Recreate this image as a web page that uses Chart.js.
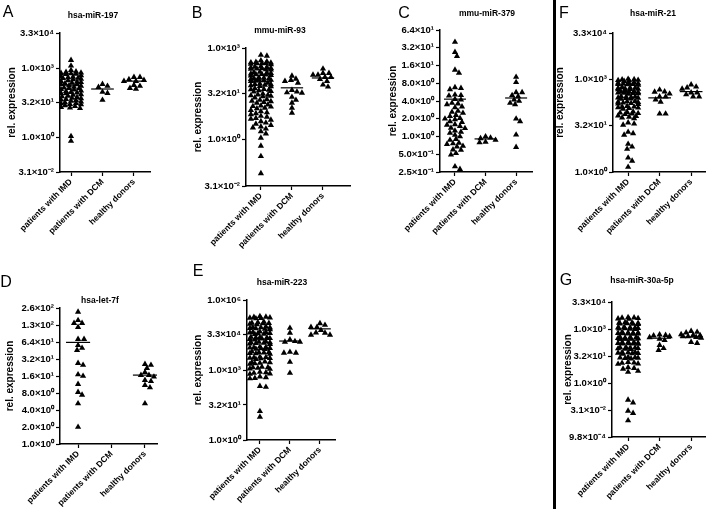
<!DOCTYPE html>
<html><head><meta charset="utf-8">
<script src="https://cdn.jsdelivr.net/npm/chart.js@4.4.1/dist/chart.umd.min.js"></script>
<style>
body{margin:0;background:#fff;width:709px;height:517px;position:relative;overflow:hidden;font-family:"Liberation Sans",Arial,sans-serif;}
canvas{position:absolute;}
.t{position:absolute;transform:translate(-50%,-50%);font-weight:bold;font-size:8.5px;white-space:nowrap;color:#000}
.l{position:absolute;transform:translate(-50%,-50%);font-size:16px;color:#000;line-height:1}
</style></head><body>
<div style="position:absolute;left:553px;top:0;width:3px;height:509px;background:#000"></div>
<script>
// ---------------- DATA ----------------
const categories = ['patients with IMD', 'patients with DCM', 'healthy donors'];

// A: hsa-miR-197
const A_IMD = [2200, 1250, 800,
  700, 660, 620, 600, 580, 560, 540,
  480, 440, 410, 390, 370, 360, 340, 320,
  290, 270, 250, 240, 225, 215, 200, 195,
  175, 165, 150, 140, 135, 130, 120, 115,
  105, 98, 90, 85, 81, 78, 72, 68,
  62, 58, 54, 50, 48, 45, 42, 40,
  37, 35, 32, 30, 29, 27, 26,
  24, 22, 20, 19, 18,
  1.1, 0.68];
const A_DCM = [200, 166, 148, 91, 81, 41];
const A_HD = [400, 400, 320, 300, 270, 270, 182, 166, 135, 123];
const A_lines = [180, 123, 270];
const A_ticks = [0.031, 1, 32, 1000, 33000];
const A_tickLabels = ['3.1×10⁻²', '1.0×10⁰', '3.2×10¹', '1.0×10³', '3.3×10⁴'];

// B: mmu-miR-93
const B_IMD = [590, 550, 390,
  360, 345, 330, 320, 310, 300, 290, 335, 315,
  250, 240, 230, 220, 215, 210, 200, 195, 235, 205,
  165, 160, 150, 145, 140, 135, 130, 125, 155, 138,
  110, 105, 100, 96, 93, 90, 86, 82, 102, 88,
  72, 68, 65, 62, 60, 57, 55, 66,
  48, 45, 43, 41, 39, 37, 44,
  32, 30, 28, 27, 26, 24, 29,
  21, 20, 18.5, 18, 17, 16,
  14, 13, 12.5, 12, 11, 10.5,
  9.2, 8.5, 7.8, 7.3, 6.8,
  6, 5.6, 5.1, 4.8, 4.5,
  4, 3.6, 3.3, 3.0,
  2.7, 2.5, 2.3,
  1.86, 1.6, 1.15, 0.63, 0.29, 0.08];
const B_DCM = [123, 98, 89, 83, 72, 42, 37, 35, 34, 25, 20, 16, 11, 7.6];
const B_HD = [209, 151, 151, 132, 132, 112, 112, 95, 83, 63, 54];
const B_lines = [79, 50, 105];
const B_ticks = [0.031, 1, 32, 1000];
const B_tickLabels = ['3.1×10⁻²', '1.0×10⁰', '3.2×10¹', '1.0×10³'];

// C: mmu-miR-379
const C_IMD = [40, 27, 23, 13.5, 12, 6.6, 6.3, 6.8,
  5.0, 5.1, 4.9, 4.2, 4.3, 3.6, 3.7, 3.5, 3.2, 3.1,
  2.6, 2.7, 2.5, 2.3, 2.2, 2.0, 2.05, 1.95, 1.8, 1.75,
  1.57, 1.6, 1.5, 1.38, 1.4, 1.2, 1.25, 1.15, 1.06, 1.0,
  0.87, 0.9, 0.76, 0.78, 0.74, 0.67, 0.69, 0.59, 0.6,
  0.52, 0.49, 0.31, 0.28];
const C_DCM = [1.0, 0.95, 0.93, 0.87, 0.81, 0.79];
const C_HD = [10.2, 8.3, 5.6, 5.6, 5.0, 4.8, 4.2, 4.0, 3.7, 3.5, 2.0, 1.8, 1.07, 0.66];
const C_lines = [4.3, 0.91, 4.5];
const C_ticks = [0.25, 0.5, 1, 2, 4, 8, 16, 32, 64];
const C_tickLabels = ['2.5×10⁻¹', '5.0×10⁻¹', '1.0×10⁰', '2.0×10⁰', '4.0×10⁰', '8.0×10⁰', '1.6×10¹', '3.2×10¹', '6.4×10¹'];

// D: hsa-let-7f
const D_IMD = [219, 155, 138, 138, 117, 72, 72, 56, 50, 46, 27, 25, 17, 16, 11.5, 8.3, 7.4, 5.2, 2.0];
const D_DCM = [];
const D_HD = [26, 25, 22, 18.6, 16.6, 16.6, 15.5, 13.5, 12.9, 11, 10, 5.2];
const D_lines = [63, null, 16.6];
const D_ticks = [1, 2, 4, 8, 16, 32, 64, 128, 256];
const D_tickLabels = ['1.0×10⁰', '2.0×10⁰', '4.0×10⁰', '8.0×10⁰', '1.6×10¹', '3.2×10¹', '6.4×10¹', '1.3×10²', '2.6×10²'];

// E: hsa-miR-223
const E_IMD = [200000, 190000,
  185000, 175000, 165000, 160000, 172000,
  115000, 108000, 102000, 98000, 94000, 90000, 105000,
  72000, 68000, 65000, 62000, 60000, 57000, 55000, 66000,
  44000, 42000, 40000, 38000, 37000, 35000, 34000, 41000,
  26000, 25000, 24000, 23000, 22000, 21000, 20000, 24500,
  16500, 15500, 15000, 14500, 14000, 13500, 12800, 15800,
  9900, 9400, 9000, 8700, 8400, 8000, 7700, 9200,
  6100, 5800, 5500, 5300, 5100, 4900, 5700,
  3600, 3400, 3300, 3200, 3100, 2900, 3500,
  2250, 2100, 2000, 1900, 1800, 2150,
  1350, 1280, 1220, 1150, 1100, 1300,
  820, 780, 740, 700, 670,
  520, 480, 450, 430,
  204, 186, 17, 9.8];
const E_DCM = [63000, 39000, 20000, 17000, 16000, 16000, 5900, 5400, 5400, 2200, 740];
const E_HD = [100000, 85000, 69000, 69000, 51000, 39000, 40000, 32000, 32000];
const E_lines = [21000, 17400, 58000];
const E_ticks = [1, 32, 1000, 33000, 1000000];
const E_tickLabels = ['1.0×10⁰', '3.2×10¹', '1.0×10³', '3.3×10⁴', '1.0×10⁶'];

// F: hsa-miR-21
const F_IMD = [1050, 1000, 980, 960, 940, 1020, 900,
  820, 790, 760, 740, 720, 700, 680, 770, 710,
  570, 550, 530, 510, 500, 480, 460, 540, 490,
  420, 405, 390, 380, 370, 360, 345, 400, 365,
  290, 280, 270, 260, 250, 240, 235, 275, 255,
  200, 190, 185, 178, 172, 165, 160, 195,
  138, 132, 126, 122, 118, 112, 130,
  92, 88, 84, 81, 78, 75,
  68, 65, 62, 58, 55,
  40, 37, 34, 20, 18, 16, 8.1, 6.6, 5.6, 2.9, 2.3, 1.45];
const F_DCM = [470, 410, 400, 350, 280, 280, 225, 190, 78, 78];
const F_HD = [690, 590, 550, 500, 380, 380, 330, 280, 280];
const F_lines = [380, 257, 410];
const F_ticks = [1, 32, 1000, 33000];
const F_tickLabels = ['1.0×10⁰', '3.2×10¹', '1.0×10³', '3.3×10⁴'];

// G: hsa-miR-30a-5p
const G_IMD = [4600, 4400, 4100, 3900, 3700, 4300,
  2400, 2300, 2200, 2100, 2050, 1950, 1900, 2250,
  1300, 1250, 1200, 1150, 1100, 1050, 1000, 1220, 1080,
  680, 650, 620, 600, 580, 560, 540, 640, 570,
  360, 345, 330, 320, 310, 300, 290, 350, 305,
  185, 178, 170, 166, 160, 155, 150, 182, 158,
  98, 93, 90, 87, 84, 80, 77, 95,
  53, 50, 48, 46, 44, 42, 51,
  28, 27, 25, 24, 23, 26,
  14.5, 13.5, 13, 12, 11.5,
  7.5, 6.8, 6.2, 4.7, 4.1,
  0.114, 0.081, 0.028, 0.021, 0.0081];
const G_DCM = [500, 470, 440, 400, 350, 290, 245, 130, 87, 68];
const G_HD = [780, 700, 640, 520, 470, 450, 400, 400, 360, 330, 190, 166];
const G_lines = [245, 316, 363];
const G_ticks = [0.00098, 0.031, 1, 32, 1000, 33000];
const G_tickLabels = ['9.8×10⁻⁴', '3.1×10⁻²', '1.0×10⁰', '3.2×10¹', '1.0×10³', '3.3×10⁴'];

// ---------------- PANELS ----------------
const panels = [
  {letter:'A', title:'hsa-miR-197', groups:[A_IMD, A_DCM, A_HD], lines:A_lines, ticks:A_ticks, labels:A_tickLabels},
  {letter:'B', title:'mmu-miR-93', groups:[B_IMD, B_DCM, B_HD], lines:B_lines, ticks:B_ticks, labels:B_tickLabels},
  {letter:'C', title:'mmu-miR-379', groups:[C_IMD, C_DCM, C_HD], lines:C_lines, ticks:C_ticks, labels:C_tickLabels},
  {letter:'D', title:'hsa-let-7f', groups:[D_IMD, D_DCM, D_HD], lines:D_lines, ticks:D_ticks, labels:D_tickLabels},
  {letter:'E', title:'hsa-miR-223', groups:[E_IMD, E_DCM, E_HD], lines:E_lines, ticks:E_ticks, labels:E_tickLabels},
  {letter:'F', title:'hsa-miR-21', groups:[F_IMD, F_DCM, F_HD], lines:F_lines, ticks:F_ticks, labels:F_tickLabels},
  {letter:'G', title:'hsa-miR-30a-5p', groups:[G_IMD, G_DCM, G_HD], lines:G_lines, ticks:G_ticks, labels:G_tickLabels}
];

// layout (pixels): canvas box, chart area, x range, y-title centre, title & letter positions
const layouts = {
  A:{cl:0,   ct:0,   cw:160, ch:255, L:60,  T:33,  R:150, B:172, xmin:-0.35, xmax:2.51, yt:12,  tx:93,  ty:15,  lx:8,   ly:12},
  B:{cl:170, ct:0,   cw:190, ch:262, L:246, T:48,  R:350, B:186, xmin:-0.48, xmax:2.87, yt:198, tx:280, ty:30,  lx:197, ly:13},
  C:{cl:340, ct:0,   cw:200, ch:255, L:440, T:30,  R:532, B:172, xmin:-0.49, xmax:2.52, yt:393, tx:487, ty:13,  lx:404, ly:13},
  D:{cl:0,   ct:250, cw:165, ch:267, L:60,  T:308, R:157, B:444, xmin:-0.54, xmax:2.36, yt:10,  tx:100, ty:300, lx:6,   ly:282},
  E:{cl:170, ct:250, cw:175, ch:267, L:247, T:300, R:335, B:440, xmin:-0.43, xmax:2.5,  yt:198, tx:282, ty:282, lx:198, ly:271},
  F:{cl:540, ct:0,   cw:169, ch:255, L:613, T:33,  R:705, B:172, xmin:-0.48, xmax:2.44, yt:560, tx:653, ty:13,  lx:564, ly:13},
  G:{cl:540, ct:250, cw:169, ch:267, L:612, T:302, R:705, B:437, xmin:-0.51, xmax:2.44, yt:568, tx:642, ty:280, lx:566, ly:280}
};

const FONT = '"Liberation Sans", Arial, sans-serif';
const MW = 5.2, MH = 4.2, HALF = 10;

// beeswarm: horizontal pixel offset per point so triangles do not overlap (capped width)
function swarm(vals, pxDec, half) {
  const pts = vals.map((v, i) => ({i, y: Math.log10(v) * pxDec}));
  pts.sort((a, b) => b.y - a.y);
  const placed = [], out = new Array(vals.length);
  for (const p of pts) {
    let best = 0, bestScore = Infinity;
    for (let k = 0; k <= 2 * half; k++) {
      const x = (k % 2 ? 1 : -1) * Math.ceil(k / 2);
      let ov = 0;
      for (const q of placed) {
        const dy = (p.y - q.y) / MH; if (Math.abs(dy) >= 1) continue;
        const d = Math.hypot((x - q.x) / MW, dy);
        if (d < 1) ov += 1 - d;
      }
      const score = ov * 100 + Math.abs(x) * 0.01;
      if (score < bestScore) { bestScore = score; best = x; }
      if (ov === 0) break;
    }
    placed.push({x: best, y: p.y});
    out[p.i] = best;
  }
  return out;
}

function addText(cls, txt, x, y) {
  const d = document.createElement('div');
  d.className = cls; d.textContent = txt;
  d.style.left = x + 'px'; d.style.top = y + 'px';
  document.body.appendChild(d);
}

function build(p) {
  const lay = layouts[p.letter];
  const cv = document.createElement('canvas');
  cv.width = lay.cw; cv.height = lay.ch;
  cv.style.left = lay.cl + 'px'; cv.style.top = lay.ct + 'px';
  cv.style.width = lay.cw + 'px'; cv.style.height = lay.ch + 'px';
  document.body.appendChild(cv);
  const yMin = p.ticks[0], yMax = p.ticks[p.ticks.length - 1];
  const pxDec = (lay.B - lay.T) / (Math.log10(yMax) - Math.log10(yMin));
  const pxUnit = (lay.R - lay.L) / (lay.xmax - lay.xmin);
  const datasets = [];
  p.lines.forEach((m, i) => {
    if (m == null) return;
    datasets.push({data:[{x:i - 0.36, y:m}, {x:i + 0.36, y:m}], showLine:true, borderColor:'#000',
      borderWidth:1.2, pointRadius:0, fill:false});
  });
  p.groups.forEach((g, i) => {
    const offs = swarm(g, pxDec, HALF);
    datasets.push({data:g.map((v, k) => ({x:i + offs[k] / pxUnit, y:v})), pointStyle:'triangle',
      pointRadius:3.6, backgroundColor:'#000', borderColor:'#000', borderWidth:0});
  });
  const gridOpt = {display:true, drawOnChartArea:false, drawTicks:true, tickLength:4, tickColor:'#000', tickWidth:1.2, color:'#000'};
  const borderOpt = {display:true, color:'#000', width:1.5};
  new Chart(cv, {
    type:'scatter',
    data:{datasets},
    options:{
      responsive:false, animation:false, devicePixelRatio:1, events:[],
      layout:{padding:{left:0, top:lay.T - lay.ct, right:lay.cl + lay.cw - lay.R, bottom:0}},
      plugins:{legend:{display:false}, tooltip:{enabled:false}},
      scales:{
        x:{type:'linear', min:lay.xmin, max:lay.xmax,
          afterBuildTicks:s => { s.ticks = [0, 1, 2].map(v => ({value:v})); },
          afterFit:s => { s.height = lay.ct + lay.ch - lay.B; s.paddingLeft = 0; s.paddingRight = 0; },
          ticks:{autoSkip:false, minRotation:45, maxRotation:45, padding:1, color:'#000',
            font:{family:FONT, size:8.5, weight:'bold'}, callback:v => categories[v]},
          grid:gridOpt, border:borderOpt},
        y:{type:'logarithmic', min:yMin, max:yMax,
          afterBuildTicks:s => { s.ticks = p.ticks.map(v => ({value:v})); },
          afterFit:s => { s.width = lay.L - lay.cl; s.paddingTop = 0; s.paddingBottom = 0; },
          ticks:{autoSkip:false, padding:2, color:'#000', font:{family:FONT, size:9.5, weight:'bold'},
            callback:(v, i) => p.labels[i]},
          grid:gridOpt, border:borderOpt,
          title:{display:true, text:'rel. expression', color:'#000', font:{family:FONT, size:10, weight:'bold'},
            padding:{top:lay.yt - lay.cl - 6, bottom:0}}}
      }
    }
  });
  addText('t', p.title, lay.tx, lay.ty);
  addText('l', p.letter, lay.lx, lay.ly);
}
panels.forEach(build);
</script>
</body></html>
